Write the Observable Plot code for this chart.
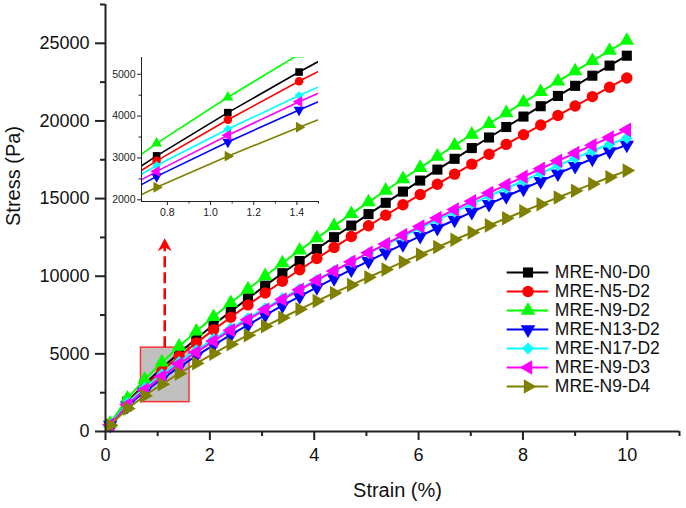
<!DOCTYPE html>
<html>
<head>
<meta charset="utf-8">
<script src="https://cdn.jsdelivr.net/npm/d3@7"></script>
<script src="https://cdn.jsdelivr.net/npm/@observablehq/plot@0.6"></script>
<style>
  body { margin: 0; background: #fff; }
  #wrap { position: relative; width: 686px; height: 508px; font-family: "Liberation Sans", Arial, sans-serif; }
  #wrap svg { position: absolute; left: 0; top: 0; }
</style>
</head>
<body>
<div id="wrap"></div>
<script>
// ---- data ----
const strain = [0.09, 0.42, 0.75, 1.08, 1.41, 1.74, 2.07, 2.40, 2.73, 3.06, 3.39, 3.72, 4.05, 4.38, 4.71, 5.04, 5.37, 5.70, 6.03, 6.36, 6.69, 7.02, 7.35, 7.68, 8.01, 8.34, 8.67, 9.00, 9.33, 9.66, 9.99];
const sN0D0 = [480, 1918, 3050, 4083, 5053, 5979, 6870, 7733, 8573, 9393, 10195, 10981, 11754, 12514, 13262, 14002, 14729, 15450, 16160, 16866, 17562, 18253, 18935, 19610, 20283, 20949, 21611, 22263, 22916, 23563, 24202];
const sN5D2 = [460, 1851, 2930, 3912, 4831, 5706, 6547, 7362, 8152, 8923, 9676, 10415, 11140, 11853, 12555, 13247, 13928, 14602, 15266, 15926, 16576, 17220, 17859, 18490, 19117, 19737, 20355, 20963, 21570, 22172, 22769];
const sN9D2 = [520, 2132, 3350, 4450, 5477, 6452, 7386, 8289, 9164, 10016, 10848, 11662, 12460, 13244, 14015, 14775, 15522, 16261, 16989, 17711, 18422, 19127, 19823, 20513, 21197, 21874, 22547, 23210, 23871, 24527, 25176];
const sN13D2 = [420, 1644, 2560, 3382, 4146, 4869, 5559, 6225, 6868, 7494, 8104, 8700, 9284, 9856, 10419, 10973, 11517, 12053, 12583, 13106, 13623, 14134, 14639, 15139, 15633, 16123, 16608, 17089, 17566, 18037, 18460];
const sN17D2 = [450, 1839, 2820, 3690, 4491, 5244, 5959, 6646, 7307, 7949, 8572, 9180, 9772, 10354, 10923, 11483, 12031, 12573, 13104, 13630, 14148, 14659, 15165, 15662, 16156, 16644, 17129, 17605, 18078, 18500, 18900];
const sN9D3 = [430, 1720, 2680, 3542, 4344, 5102, 5826, 6525, 7201, 7858, 8498, 9124, 9737, 10338, 10929, 11511, 12082, 12646, 13202, 13752, 14295, 14833, 15363, 15887, 16407, 16922, 17433, 17937, 18438, 18935, 19426];
const sN9D4 = [400, 1474, 2300, 3043, 3735, 4390, 5016, 5620, 6204, 6773, 7326, 7868, 8399, 8920, 9432, 9936, 10430, 10920, 11401, 11879, 12350, 12816, 13275, 13731, 14182, 14629, 15073, 15510, 15945, 16375, 16802];

const names = ["MRE-N0-D0", "MRE-N5-D2", "MRE-N9-D2", "MRE-N13-D2", "MRE-N17-D2", "MRE-N9-D3", "MRE-N9-D4"];
const colors = ["#000000", "#ff0000", "#00ff00", "#0000ff", "#00ffff", "#ff00ff", "#808000"];
const values = [sN0D0, sN5D2, sN9D2, sN13D2, sN17D2, sN9D3, sN9D4];

const xMajor = [0, 2, 4, 6, 8, 10];
const xMinor = [1, 3, 5, 7, 9, 11];
const yMajor = [0, 5000, 10000, 15000, 20000, 25000];
const yMinor = [2500, 7500, 12500, 17500, 22500, 27500];
const insetXMajor = [0.8, 1.0, 1.2, 1.4];
const insetXMinor = [0.9, 1.1, 1.3, 1.5];
const insetYMajor = [2000, 3000, 4000, 5000];
const insetYMinor = [2500, 3500, 4500];
const zoomBox = [{x1: 0.68, x2: 1.61, y1: 1890, y2: 5400}];
const arrowX = 1.135, arrowFrom = 5400, arrowTo = 11950, arrowTip = 12450;

// ---- symbols ----
function tri(angleDeg) {
  return {
    draw(ctx, size) {
      const y = -Math.sqrt(size / (Math.sqrt(3) * 3));
      const pts = [[0, 2 * y], [-Math.sqrt(3) * y, -y], [Math.sqrt(3) * y, -y]];
      const a = angleDeg * Math.PI / 180, c = Math.cos(a), s = Math.sin(a);
      pts.forEach(([px, py], i) => {
        const X = px * c - py * s, Y = px * s + py * c;
        if (i) ctx.lineTo(X, Y); else ctx.moveTo(X, Y);
      });
      ctx.closePath();
    }
  };
}
const arrowHead = { draw(ctx) { ctx.moveTo(0, 0); ctx.lineTo(7, 13); ctx.lineTo(0, 9); ctx.lineTo(-7, 13); ctx.closePath(); } };
const symbols = [d3.symbolSquare, d3.symbolCircle, tri(0), tri(180), d3.symbolDiamond2, tri(-90), tri(90)];
const radii = [5.7, 5.7, 5.4, 5.4, 5.3, 5.4, 5.4];

const series = names.map((name, k) => ({
  name, color: colors[k], symbol: symbols[k], r: radii[k],
  rows: strain.map((x, i) => ({x, y: values[k][i]}))
}));

const font = '"Liberation Sans", Arial, sans-serif';
const axisColor = "#222";

// ---- main plot ----
const seriesMarks = series.flatMap(s => [
  Plot.line(s.rows, {x: "x", y: "y", stroke: s.color, strokeWidth: 2}),
  Plot.dot(s.rows, {x: "x", y: "y", symbol: s.symbol, r: s.r, fill: s.color, stroke: "none"})
]);

const main = Plot.plot({
  width: 686, height: 508,
  marginLeft: 105, marginRight: 7, marginTop: 4, marginBottom: 77,
  style: {fontFamily: font, fontSize: "18px", color: "#111", background: "white"},
  x: {domain: [0, 11], label: null},
  y: {domain: [0, 27500], label: null},
  marks: [
    Plot.rect(zoomBox, {x1: "x1", x2: "x2", y1: "y1", y2: "y2", fill: "#c0c0c0", stroke: "#ff3030", strokeWidth: 1.5}),
    Plot.ruleX([arrowX], {y1: arrowFrom, y2: arrowTo, stroke: "#ff0000", strokeWidth: 2.6, strokeDasharray: "11,5"}),
    Plot.dot([arrowX], {x: d => d, y: arrowTip, symbol: arrowHead, fill: "#ff0000", stroke: "none"}),
    ...seriesMarks,
    Plot.ruleX([0], {stroke: axisColor, strokeWidth: 2}),
    Plot.ruleY([0], {stroke: axisColor, strokeWidth: 2}),
    Plot.axisX({ticks: xMajor, tickSize: 9, tickPadding: 8, tickFormat: d => String(d), stroke: axisColor, strokeWidth: 2, fontSize: 18, label: null}),
    Plot.axisX({ticks: xMinor, tickSize: 5, tickFormat: () => "", stroke: axisColor, strokeWidth: 2, label: null}),
    Plot.axisY({ticks: yMajor, tickSize: 10, tickPadding: 6, tickFormat: d => String(d), stroke: axisColor, strokeWidth: 2, fontSize: 18, label: null}),
    Plot.axisY({ticks: yMinor, tickSize: 5, tickFormat: () => "", stroke: axisColor, strokeWidth: 2, label: null}),
    Plot.text(["Strain (%)"], {frameAnchor: "bottom", dx: 5, dy: 65, lineAnchor: "bottom", fontSize: 20, fill: "#111"}),
    Plot.text(["Stress (Pa)"], {frameAnchor: "left", dx: -86, dy: 8, rotate: -90, lineAnchor: "bottom", fontSize: 20, fill: "#111"})
  ]
});

// ---- inset ----
const insetMarks = series.flatMap(s => [
  Plot.line(s.rows, {x: "x", y: "y", stroke: s.color, strokeWidth: 1.6, clip: true}),
  Plot.dot(s.rows, {x: "x", y: "y", symbol: s.symbol, r: s.r * 0.75, fill: s.color, stroke: "none", clip: true})
]);
const inset = Plot.plot({
  width: 686, height: 508,
  marginLeft: 141, marginRight: 368, marginTop: 57, marginBottom: 307,
  style: {fontFamily: font, fontSize: "10.5px", color: "#222", background: "transparent"},
  x: {domain: [0.68, 1.5], label: null},
  y: {domain: [1960, 5400], label: null},
  marks: [
    ...insetMarks,
    Plot.ruleX([0.68], {stroke: axisColor, strokeWidth: 1}),
    Plot.ruleY([1960], {stroke: axisColor, strokeWidth: 1}),
    Plot.axisX({ticks: insetXMajor, tickSize: 4, tickPadding: 3, tickFormat: d3.format(".1f"), stroke: axisColor, fontSize: 10.5, label: null}),
    Plot.axisX({ticks: insetXMinor, tickSize: 2.5, tickFormat: () => "", stroke: axisColor, label: null}),
    Plot.axisY({ticks: insetYMajor, tickSize: 4, tickPadding: 2, tickFormat: d => String(d), stroke: axisColor, fontSize: 10.5, label: null}),
    Plot.axisY({ticks: insetYMinor, tickSize: 2.5, tickFormat: () => "", stroke: axisColor, label: null})
  ]
});

// ---- legend ----
const legendRows = series.map(s => ({name: s.name, color: s.color}));
const legend = Plot.plot({
  width: 686, height: 508,
  margin: 0,
  style: {fontFamily: font, fontSize: "17.5px", color: "#111", background: "transparent"},
  x: {domain: [0, 1], range: [506.7, 548.3], label: null, axis: null},
  y: {type: "point", domain: names, range: [259.5, 398], label: null, axis: null},
  marks: [
    ...series.map(s => Plot.ruleY([s.name], {y: d => d, x1: 0, x2: 1, stroke: s.color, strokeWidth: 2})),
    ...series.map(s => Plot.dot([s.name], {x: 0.5, y: d => d, symbol: s.symbol, r: s.r, fill: s.color, stroke: "none"})),
    Plot.text(legendRows, {x: 1, y: "name", text: "name", dx: 6, textAnchor: "start", lineAnchor: "middle", fontSize: 17.5, fill: "#111"})
  ]
});

const wrap = document.getElementById("wrap");
wrap.appendChild(main);
wrap.appendChild(inset);
wrap.appendChild(legend);
</script>
</body>
</html>
